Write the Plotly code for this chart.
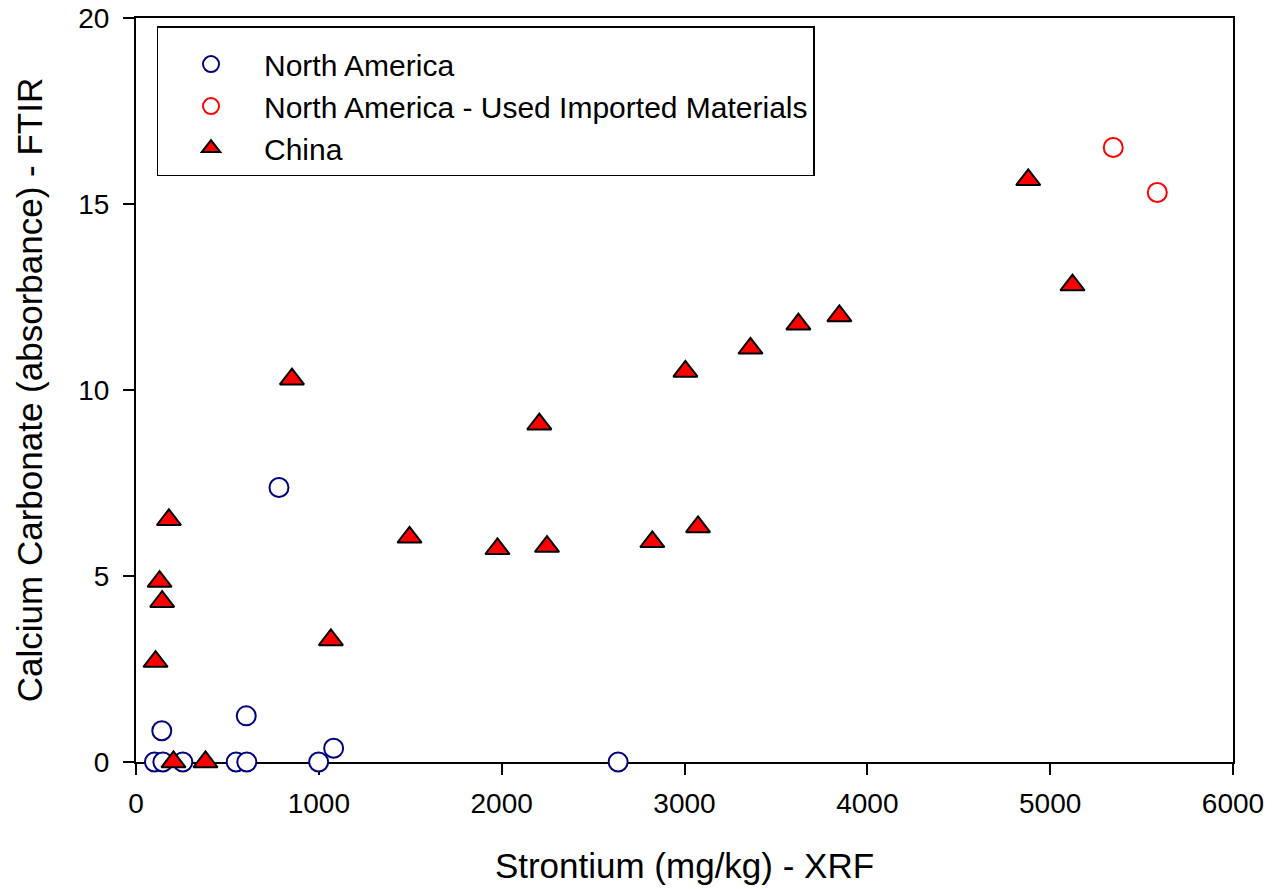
import plotly.graph_objects as go

# North America
na_x = [101, 147, 256, 548, 606, 999, 2637, 141, 603, 1081, 782]
na_y = [0, 0, 0, 0, 0, 0, 0, 0.84, 1.24, 0.37, 7.38]

# North America - Used Imported Materials
nai_x = [5345, 5586]
nai_y = [16.52, 15.31]

# China
cn_x = [180, 129, 143, 107, 1066, 205, 380, 853, 1496, 1977, 2206, 2248,
        2824, 3005, 3074, 3361, 3623, 3847, 4880, 5122]
cn_y = [6.51, 4.85, 4.31, 2.70, 3.28, 0, 0, 10.29, 6.04, 5.73, 9.08, 5.79,
        5.92, 10.50, 6.32, 11.12, 11.77, 11.99, 15.65, 12.82]

x_ticks = [0, 1000, 2000, 3000, 4000, 5000, 6000]
y_ticks = [0, 5, 10, 15, 20]

FONT = "Liberation Sans, Arial, sans-serif"

fig = go.Figure()
fig.add_trace(go.Scatter(
    x=na_x, y=na_y, mode="markers", name="North America", cliponaxis=False,
    marker=dict(symbol="circle", size=19, color="white",
                line=dict(color="#000080", width=2)),
))
fig.add_trace(go.Scatter(
    x=nai_x, y=nai_y, mode="markers", name="North America - Used Imported Materials",
    cliponaxis=False,
    marker=dict(symbol="circle", size=19, color="white",
                line=dict(color="#ff0000", width=2)),
))
fig.add_trace(go.Scatter(
    x=cn_x, y=cn_y, mode="markers", name="China", cliponaxis=False,
    marker=dict(symbol="triangle-up", size=21, color="#ff0000",
                line=dict(color="black", width=2)),
))

axis_common = dict(
    showgrid=False, zeroline=False, showline=True, linecolor="black",
    linewidth=2, mirror=True, ticks="outside", ticklen=11, tickwidth=2,
    tickcolor="black", layer="below traces", automargin=False,
    ticklabeloverflow="allow",
    tickfont=dict(family=FONT, size=28, color="black"),
)

fig.update_xaxes(
    range=[0, 6000], tickvals=x_ticks, ticktext=[str(v) for v in x_ticks],
    ticklabelstandoff=4,
    title=dict(text="Strontium (mg/kg) - XRF", standoff=36,
               font=dict(family=FONT, size=35, color="black")),
    **axis_common,
)
fig.update_yaxes(
    range=[0, 20], tickvals=y_ticks, ticktext=[str(v) for v in y_ticks],
    ticklabelstandoff=8,
    title=dict(text="Calcium Carbonate (absorbance) - FTIR", standoff=25,
               font=dict(family=FONT, size=35, color="black")),
    **axis_common,
)

fig.update_layout(
    width=1272, height=889,
    margin=dict(l=136, r=39, t=18, b=127),
    plot_bgcolor="white", paper_bgcolor="white",
    font=dict(family=FONT, color="black"),
    showlegend=True,
    legend=dict(
        x=0.0187, y=0.989, xanchor="left", yanchor="top",
        bgcolor="white", bordercolor="black", borderwidth=1.5,
        font=dict(family=FONT, size=30, color="black"),
        tracegroupgap=0, itemwidth=96,
        title=dict(text=" ", font=dict(size=8)),
    ),
)

fig.write_html("out.html", config={"displayModeBar": False},
               post_script="document.body.style.margin='0';")
